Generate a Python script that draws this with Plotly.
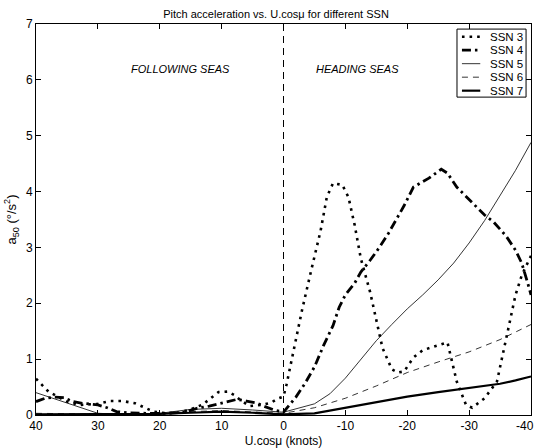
import plotly.graph_objects as go

# Pitch acceleration a50 (deg/s^2) against U.cos(mu) in knots; positive = following seas,
# negative = heading seas.
ssn3_x = [40, 39, 38, 36.5, 35, 33, 30, 28, 26, 24, 22.5, 21, 19, 17, 15, 13, 12, 10.5, 9, 8, 7,
          5.5, 3.5, 2, 1, 0, -0.5, -1.5, -3, -4.5, -6, -7, -8, -9.5, -10.5, -11.5, -12.5, -14, -15,
          -16, -17.5, -18.5, -19.5, -21, -22.5, -25, -26.5, -28, -29.5, -30.5, -32.5, -34.5, -36,
          -37.5, -38.5, -40]
ssn3_y = [0.65, 0.54, 0.42, 0.33, 0.24, 0.18, 0.2, 0.25, 0.25, 0.21, 0.13, 0.06, 0.03, 0.04, 0.1,
          0.19, 0.28, 0.41, 0.42, 0.36, 0.27, 0.16, 0.18, 0.22, 0.29, 0.33, 0.55, 1.1, 1.88, 2.6,
          3.3, 3.9, 4.15, 4.12, 3.9, 3.4, 2.8, 2.2, 1.7, 1.2, 0.82, 0.76, 0.78, 1.03, 1.16, 1.25,
          1.3, 0.6, 0.18, 0.13, 0.3, 0.6, 1.35, 2.15, 2.5, 2.85]

ssn4_x = [40, 38.5, 37, 35.5, 34, 32.5, 30, 28.5, 27, 25, 22, 19, 16, 14, 12, 10.5, 9, 7.5, 6,
          4.5, 3, 1.5, 0, -2, -3.5, -5, -6.5, -8, -9, -10, -11.5, -12.5, -14, -15.5, -17, -18.5,
          -19.5, -21, -23.5, -25.5, -26.5, -28, -30, -32.5, -34, -36, -37.5, -38.5, -39.5, -40]
ssn4_y = [0.24, 0.3, 0.32, 0.31, 0.24, 0.21, 0.18, 0.13, 0.06, 0.04, 0.03, 0.03, 0.05, 0.12, 0.16,
          0.2, 0.24, 0.28, 0.25, 0.22, 0.15, 0.09, 0.05, 0.32, 0.57, 0.86, 1.25, 1.6, 1.93, 2.15,
          2.36, 2.56, 2.77, 3.0, 3.26, 3.55, 3.75, 4.08, 4.24, 4.4, 4.33, 4.08, 3.85, 3.58, 3.45,
          3.2, 2.95, 2.72, 2.35, 2.15]

ssn5_x = [40, 35, 30, 25, 20, 15, 10, 5, 0, -5, -7.5, -10, -12.5, -15, -17.5, -20, -22.5, -25,
          -27.5, -30, -32.5, -35, -37.5, -40]
ssn5_y = [0.4, 0.22, 0.03, 0.01, 0.03, 0.1, 0.12, 0.09, 0.05, 0.2, 0.38, 0.66, 1.0, 1.33, 1.62,
          1.9, 2.15, 2.42, 2.72, 3.08, 3.48, 3.92, 4.38, 4.88]

ssn6_x = [40, 35, 30, 25, 20, 15, 10, 5, 0, -5, -10, -15, -20, -25, -30, -35, -40]
ssn6_y = [0.03, 0.02, 0.01, 0.01, 0.02, 0.06, 0.08, 0.06, 0.03, 0.13, 0.3, 0.52, 0.76, 0.95,
          1.13, 1.35, 1.62]

ssn7_x = [40, 35, 30, 25, 20, 15, 10, 5, 0, -5, -10, -15, -20, -25, -30, -35, -37.5, -40]
ssn7_y = [0.01, 0.01, 0.01, 0.01, 0.02, 0.04, 0.06, 0.04, 0.01, 0.03, 0.13, 0.24, 0.33, 0.41,
          0.49, 0.56, 0.62, 0.69]

x_ticks = [40, 30, 20, 10, 0, -10, -20, -30, -40]
y_ticks = [0, 1, 2, 3, 4, 5, 6, 7]

FONT = "Liberation Sans, Arial, Helvetica, sans-serif"

series = [
    ("SSN 3", ssn3_x, ssn3_y, dict(width=2.6, dash="2.6px,5px")),
    ("SSN 4", ssn4_x, ssn4_y, dict(width=2.8, dash="9px,4px,2.5px,4px")),
    ("SSN 5", ssn5_x, ssn5_y, dict(width=0.8)),
    ("SSN 6", ssn6_x, ssn6_y, dict(width=0.8, dash="6px,5px")),
    ("SSN 7", ssn7_x, ssn7_y, dict(width=2.2)),
]

fig = go.Figure()
for name, xs, ys, line in series:
    fig.add_trace(go.Scatter(x=xs, y=ys, mode="lines", name=name, showlegend=False,
                             line=dict(color="black", **line)))

# divider between following and heading seas
fig.add_shape(type="line", x0=0, x1=0, y0=0, y1=7, xref="x", yref="y",
              line=dict(color="black", width=1, dash="7px,5px"), layer="below")

fig.add_annotation(x=25, y=6.2, text="<i>FOLLOWING SEAS</i>", showarrow=False,
                   xanchor="left", yanchor="middle", font=dict(size=11, color="black", family=FONT))
fig.add_annotation(x=-5, y=6.2, text="<i>HEADING SEAS</i>", showarrow=False,
                   xanchor="left", yanchor="middle", font=dict(size=11, color="black", family=FONT))

# compact boxed key in the upper-right corner (paper coordinates)
key_x0, key_x1 = 0.8505, 0.99
key_top, key_bottom = 0.987, 0.813
row_step = 0.0345
fig.add_shape(type="rect", xref="paper", yref="paper", x0=key_x0, x1=key_x1,
              y0=key_bottom, y1=key_top, line=dict(color="black", width=1),
              fillcolor="white", layer="above")
for i, (name, _, _, line) in enumerate(series):
    yy = key_top - 0.0195 - i * row_step
    fig.add_shape(type="line", xref="paper", yref="paper", x0=key_x0 + 0.010,
                  x1=key_x0 + 0.047, y0=yy, y1=yy,
                  line=dict(color="black", **line), layer="above")
    fig.add_annotation(xref="paper", yref="paper", x=key_x0 + 0.062, y=yy, text=name,
                       showarrow=False, xanchor="left", yanchor="middle",
                       font=dict(size=11.5, color="black", family=FONT))

axis_common = dict(showgrid=False, zeroline=False, showline=True, linecolor="black", linewidth=1,
                   mirror="ticks", ticks="inside", ticklen=5, tickcolor="black", tickwidth=1,
                   automargin=False,
                   tickfont=dict(size=12, color="black", family=FONT))

# the last x label is drawn separately, pulled in slightly so it stays inside the figure
x_labels = [str(v) for v in x_ticks]
x_labels[-1] = ""
fig.add_annotation(x=x_ticks[-1], xref="x", y=0, yref="paper", text=str(x_ticks[-1]),
                   showarrow=False, xanchor="center", yanchor="top", xshift=-6, yshift=-2,
                   font=dict(size=12, color="black", family=FONT))

fig.update_layout(
    width=536, height=448,
    margin=dict(l=36, r=5, t=24, b=33),
    paper_bgcolor="white", plot_bgcolor="white",
    font=dict(family=FONT, color="black"),
    title=dict(text="Pitch acceleration vs. U.cosμ for different SSN", x=0.515, xanchor="center",
               y=0.968, yanchor="middle", xref="container",
               font=dict(size=11, color="black", family=FONT)),
    xaxis=dict(range=[40, -40], tickvals=x_ticks, ticktext=x_labels,
               title=dict(text="U.cosμ (knots)", standoff=4, font=dict(size=12, color="black")),
               **axis_common),
    yaxis=dict(range=[0, 7], tickvals=y_ticks, ticktext=[str(v) for v in y_ticks],
               title=dict(text="a<sub>50</sub> (°/s<sup>2</sup>)", standoff=6,
                          font=dict(size=13, color="black")),
               **axis_common),
    showlegend=False,
)

fig.write_html("out.html")
